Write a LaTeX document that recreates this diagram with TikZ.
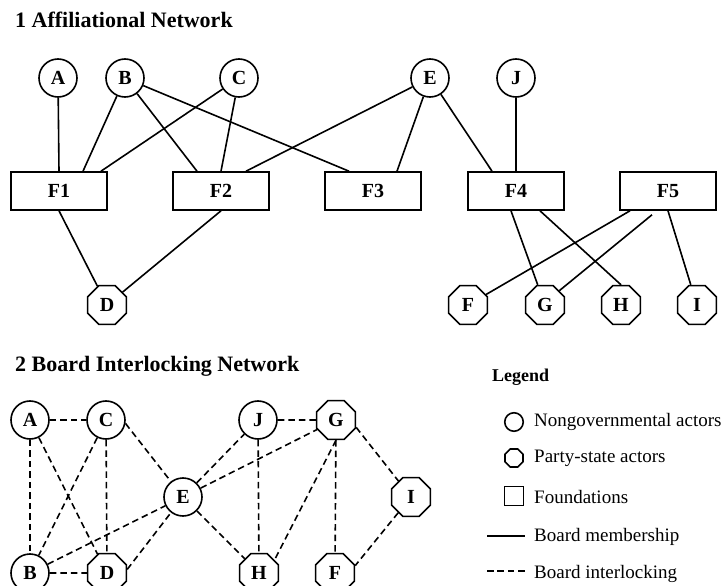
\documentclass[tikz,border=0pt]{standalone}
\usepackage{fontspec}
\setmainfont{Liberation Serif}
\usetikzlibrary{shapes.geometric}

\tikzset{
  actor/.style={circle, draw, line width=1.6pt, minimum size=38pt, inner sep=0pt,
    font=\fontsize{20}{20}\selectfont\bfseries},
  party/.style={regular polygon, regular polygon sides=8, draw, line width=1.6pt,
    minimum size=42pt, inner sep=0pt, font=\fontsize{20}{20}\selectfont\bfseries},
  found/.style={rectangle, draw, line width=1.6pt, minimum width=96pt,
    minimum height=38pt, inner sep=0pt, font=\fontsize{20}{20}\selectfont\bfseries},
  member/.style={line width=1.6pt},
  interlock/.style={line width=1.6pt, dash pattern=on 6.5pt off 4pt},
  heading/.style={anchor=base west, inner sep=0pt, font=\fontsize{22}{22}\selectfont\bfseries},
  legtext/.style={anchor=base west, inner sep=0pt, font=\fontsize{19}{19}\selectfont},
}

\begin{document}
\begin{tikzpicture}[x=1pt, y=-1pt]
    \useasboundingbox (0,0) rectangle (724,586);

    % Part 1: actors sitting on foundation boards
    \node[heading] (head1) at (15,28) {1 Affiliational Network};
    \foreach \n/\x in {A/58, B/125, C/239, E/430, J/516}
        \node[actor] (t\n) at (\x,78) {\n};
    \foreach \i/\x in {1/59, 2/221, 3/373, 4/516, 5/668}
        \node[found] (F\i) at (\x,191) {F\i};
    \foreach \n/\x in {D/107, F/468, G/545, H/621, I/697}
        \node[party] (t\n) at (\x,305) {\n};

    % board memberships
    \draw[member] (tA) -- (F1.north);
    \draw[member] (tB) -- ([xshift=24pt]F1.north);
    \draw[member] (tC) -- ([xshift=42pt]F1.north);
    \draw[member] (tB) -- ([xshift=-24pt]F2.north);
    \draw[member] (tC) -- (F2.north);
    \draw[member] (tE) -- ([xshift=25pt]F2.north);
    \draw[member] (tB) -- ([xshift=-24pt]F3.north);
    \draw[member] (tE) -- ([xshift=24pt]F3.north);
    \draw[member] (tE) -- ([xshift=-24pt]F4.north);
    \draw[member] (tJ) -- (F4.north);
    \draw[member] (F1.south) -- (tD);
    \draw[member] (F2.south) -- (tD);
    \draw[member] ([xshift=-5pt]F4.south) -- (tG);
    \draw[member] ([xshift=24pt]F4.south) -- (tH.north);
    \draw[member] ([xshift=-38pt]F5.south) -- (tF);
    \draw[member] ([xshift=-16pt,yshift=-4pt]F5.south) -- (tG.45);
    \draw[member] (F5.south) -- (tI);

    % Part 2: interlocks between actors
    \node[heading] (head2) at (15,371) {2 Board Interlocking Network};
    \foreach \n/\x/\y in {A/30/420, C/106/420, J/258/420, E/183/497, B/30/573}
        \node[actor] (b\n) at (\x,\y) {\n};
    \foreach \n/\x/\y in {G/336/420, I/411/497, D/107/573, H/259/573, F/335/573}
        \node[party] (b\n) at (\x,\y) {\n};

    \foreach \a/\b in {A/C, A/B, A/D, C/B, C/D, B/D, B/E, E/J, E/G, E/H, J/G, J/H, G/F}
        \draw[interlock] (b\a) -- (b\b);
    \draw[interlock] (bC.-10) -- (bE);
    \draw[interlock] (bD.10) -- (bE);
    \draw[interlock] (bG.south) -- (bH.40);
    \draw[interlock] (bG.-20) -- (bI);
    \draw[interlock] (bI) -- (bF.20);

    % Legend
    \node[anchor=base west, inner sep=0pt, font=\fontsize{18}{18}\selectfont\bfseries] (leghead) at (492,381) {Legend};
    \node[actor, minimum size=18.5pt] (keyA) at (514,422) {};
    \node[party, minimum size=19.5pt] (keyP) at (514,458) {};
    \node[found, minimum width=19pt, minimum height=19pt] (keyF) at (514,496) {};
    \coordinate (keyM1) at (487,536);
    \coordinate (keyM2) at (525,536);
    \coordinate (keyI1) at (487,571);
    \coordinate (keyI2) at (525,571);
    \draw[member] (keyM1) -- (keyM2);
    \draw[interlock, dash pattern=on 6.5pt off 3.9pt] (keyI1) -- (keyI2);
    \node[legtext] (legA) at (534,426.5) {Nongovernmental actors};
    \node[legtext] (legP) at (534,462.5) {Party-state actors};
    \node[legtext] (legF) at (534,503) {Foundations};
    \node[legtext] (legM) at (534,541.5) {Board membership};
    \node[legtext] (legI) at (534,578) {Board interlocking};

\end{tikzpicture}
\end{document}
